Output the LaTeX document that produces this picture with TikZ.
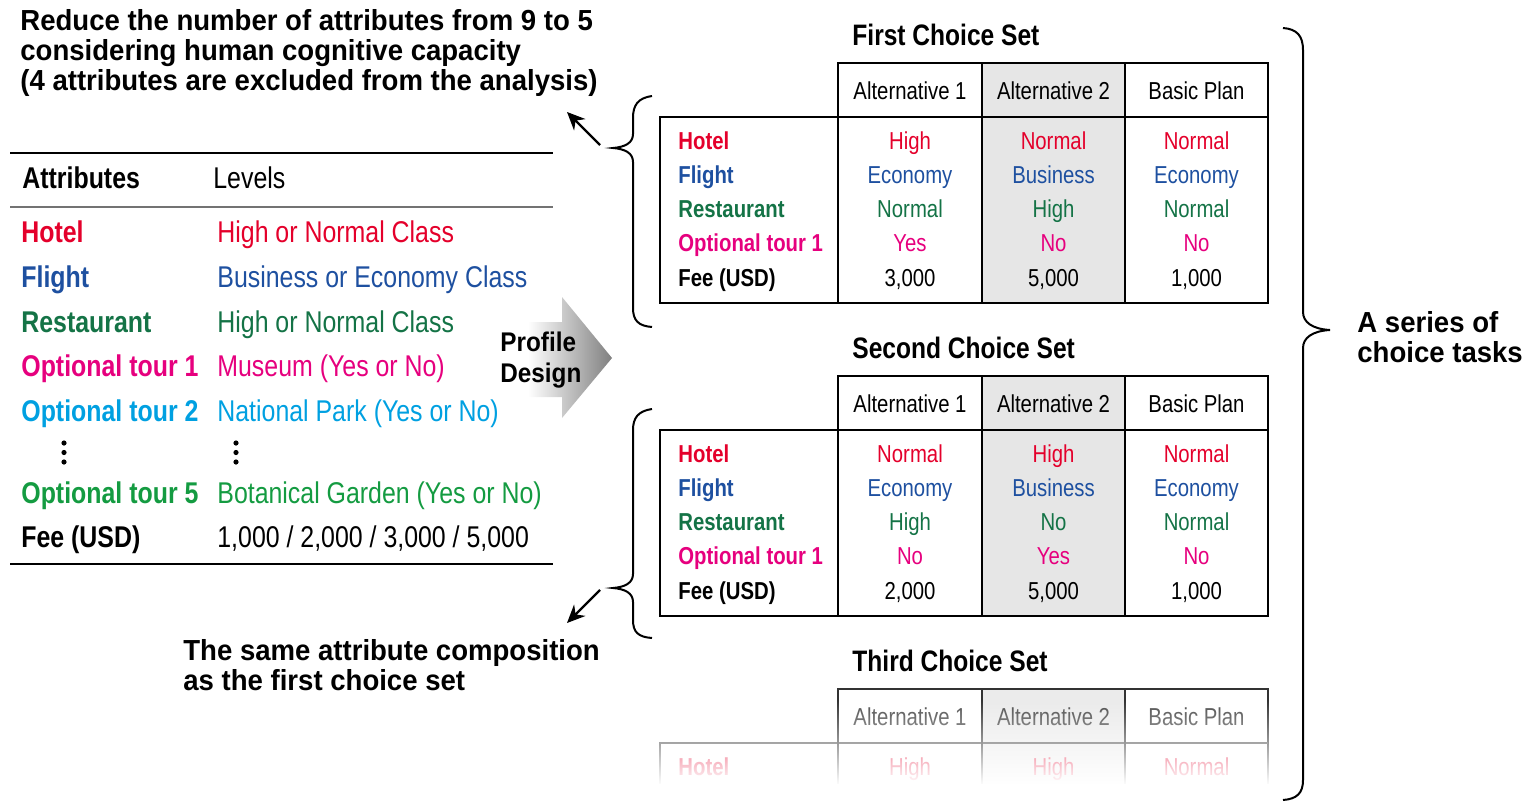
\documentclass[tikz,border=0pt]{standalone}
\usepackage{fontspec}
\setmainfont{Liberation Sans}
\newfontfamily\narrowfont[FakeStretch=0.83]{Liberation Sans}
\newfontfamily\profilefont[FakeStretch=0.9]{Liberation Sans}
\newfontfamily\widefont[FakeStretch=0.95]{Liberation Sans}
\usetikzlibrary{arrows.meta,fadings}

\definecolor{cHotel}{RGB}{228,0,43}
\definecolor{cFlight}{RGB}{30,80,160}
\definecolor{cRest}{RGB}{20,115,70}
\definecolor{cTour1}{RGB}{230,0,126}
\definecolor{cTour2}{RGB}{0,160,225}
\definecolor{cTour5}{RGB}{20,155,65}
\definecolor{altgray}{RGB}{230,230,230}

\tikzfading[name=fadebelow, top color=transparent!100, bottom color=transparent!0]

\tikzset{
  tcell/.style={inner sep=0pt, anchor=base, font=\narrowfont\fontsize{12.25pt}{14pt}\selectfont},
  tlab/.style={inner sep=0pt, anchor=base west, font=\narrowfont\bfseries\fontsize{12.25pt}{14pt}\selectfont},
  attr/.style={inner sep=0pt, anchor=base west, font=\narrowfont\bfseries\fontsize{15pt}{17pt}\selectfont},
  levtext/.style={inner sep=0pt, anchor=base west, font=\narrowfont\fontsize{15pt}{17pt}\selectfont},
  settitle/.style={inner sep=0pt, anchor=base west, font=\narrowfont\bfseries\fontsize{14.8pt}{16pt}\selectfont},
  note/.style={inner sep=0pt, anchor=base west, align=left, font=\widefont\bfseries\fontsize{14.5pt}{15pt}\selectfont},
  profiletext/.style={inner sep=0pt, anchor=base west, align=left, font=\profilefont\bfseries\fontsize{13.5pt}{15.5pt}\selectfont},
  tline/.style={line width=1pt},
  bracepath/.style={line width=1pt},
  pointer/.style={line width=1.2pt, -{Stealth[length=9pt,width=8pt]}},
  toprule/.style={line width=1pt},
  midrule/.style={line width=0.7pt, black!55}
}

\begin{document}
\begin{tikzpicture}[x=0.5pt, y=-0.5pt]
\useasboundingbox (0,0) rectangle (1529,803);

% ---------- heading notes (positioned by the baseline of their last line) ----------
\node[note] (reduce) at (20,90) {Reduce the number of attributes from 9 to 5\\considering human cognitive capacity\\(4 attributes are excluded from the analysis)};
\node[note] (same) at (183,690) {The same attribute composition\\as the first choice set};
\node[note] (series) at (1357,362) {A series of\\choice tasks};

% ---------- attribute table ----------
\draw[toprule] (10,153) -- (553,153);
\draw[midrule] (10,207) -- (553,207);
\draw[toprule] (10,564) -- (553,564);
\node[attr] (hdrA) at (22,188) {Attributes};
\node[levtext] (hdrL) at (213,188) {Levels};
\foreach \nm/\lv/\cl/\yy [count=\i] in {
  Hotel/High or Normal Class/cHotel/242,
  Flight/Business or Economy Class/cFlight/287,
  Restaurant/High or Normal Class/cRest/332,
  Optional tour 1/Museum (Yes or No)/cTour1/376,
  Optional tour 2/National Park (Yes or No)/cTour2/421,
  Optional tour 5/Botanical Garden (Yes or No)/cTour5/503,
  Fee (USD)/{1,000 / 2,000 / 3,000 / 5,000}/black/547}{
  \node[attr, text=\cl] (att\i) at (21,\yy) {\nm};
  \node[levtext, text=\cl] (lev\i) at (217,\yy) {\lv};
}
\foreach \xx in {64,236}{
  \foreach \yy in {443,452.5,462}{
    \fill (\xx,\yy) circle[radius=2.6];
  }
}

% ---------- profile design arrow ----------
\shade[left color=white, right color=black!50]
  (528,322) -- (562,322) -- (562,297) -- (612,358) -- (562,418) -- (562,397) -- (528,397) -- cycle;
\node[profiletext] (profile) at (500,382) {Profile\\Design};

% ---------- first choice set ----------
\node[settitle] (t1) at (852,45) {First Choice Set};
\fill[altgray] (982,63) rectangle (1125,303);
\draw[tline] (838,117) -- (838,63) -- (1268,63) -- (1268,303) -- (660,303) -- (660,117) -- cycle;
\draw[tline] (838,117) -- (1268,117);
\foreach \xx in {838,982,1125} \draw[tline] (\xx,63) -- (\xx,303);
\node[tcell] (s1h1) at (910,99) {Alternative 1};
\node[tcell] (s1h2) at (1053.5,99) {Alternative 2};
\node[tcell] (s1h3) at (1196.5,99) {Basic Plan};
\foreach \nm/\cl/\va/\vb/\vc/\yy [count=\i] in {
  Hotel/cHotel/High/Normal/Normal/149,
  Flight/cFlight/Economy/Business/Economy/183.3,
  Restaurant/cRest/Normal/High/Normal/217.6,
  Optional tour 1/cTour1/Yes/No/No/251.9,
  Fee (USD)/black/{3,000}/{5,000}/{1,000}/286.2}{
  \node[tlab, text=\cl] (s1r\i) at (678,\yy) {\nm};
  \node[tcell, text=\cl] (s1a\i) at (910,\yy) {\va};
  \node[tcell, text=\cl] (s1b\i) at (1053.5,\yy) {\vb};
  \node[tcell, text=\cl] (s1c\i) at (1196.5,\yy) {\vc};
}

% ---------- second choice set ----------
\begin{scope}[shift={(0,313)}]
\node[settitle] (t2) at (852,45) {Second Choice Set};
\fill[altgray] (982,63) rectangle (1125,303);
\draw[tline] (838,117) -- (838,63) -- (1268,63) -- (1268,303) -- (660,303) -- (660,117) -- cycle;
\draw[tline] (838,117) -- (1268,117);
\foreach \xx in {838,982,1125} \draw[tline] (\xx,63) -- (\xx,303);
\node[tcell] (s2h1) at (910,99) {Alternative 1};
\node[tcell] (s2h2) at (1053.5,99) {Alternative 2};
\node[tcell] (s2h3) at (1196.5,99) {Basic Plan};
\foreach \nm/\cl/\va/\vb/\vc/\yy [count=\i] in {
  Hotel/cHotel/Normal/High/Normal/149,
  Flight/cFlight/Economy/Business/Economy/183.3,
  Restaurant/cRest/High/No/Normal/217.6,
  Optional tour 1/cTour1/No/Yes/No/251.9,
  Fee (USD)/black/{2,000}/{5,000}/{1,000}/286.2}{
  \node[tlab, text=\cl] (s2r\i) at (678,\yy) {\nm};
  \node[tcell, text=\cl] (s2a\i) at (910,\yy) {\va};
  \node[tcell, text=\cl] (s2b\i) at (1053.5,\yy) {\vb};
  \node[tcell, text=\cl] (s2c\i) at (1196.5,\yy) {\vc};
}
\end{scope}

% ---------- third choice set (fading out) ----------
\begin{scope}[shift={(0,626)}]
\node[settitle] (t3) at (852,45) {Third Choice Set};
\fill[altgray!80] (982,63) rectangle (1125,170);
\draw[tline, black!80] (838,117) -- (838,63) -- (1268,63) -- (1268,170);
\draw[tline, black!70] (660,170) -- (660,117) -- (1268,117);
\foreach \xx in {838,982,1125} \draw[tline, black!80] (\xx,63) -- (\xx,170);
\node[tcell, text=black!70] (s3h1) at (910,99) {Alternative 1};
\node[tcell, text=black!70] (s3h2) at (1053.5,99) {Alternative 2};
\node[tcell, text=black!70] (s3h3) at (1196.5,99) {Basic Plan};
\node[tlab, text=cHotel] (s3r1) at (678,149) {Hotel};
\node[tcell, text=cHotel] (s3a1) at (910,149) {High};
\node[tcell, text=cHotel] (s3b1) at (1053.5,149) {High};
\node[tcell, text=cHotel] (s3c1) at (1196.5,149) {Normal};
\end{scope}
\fill[white, path fading=fadebelow] (640,700) rectangle (1285,785);
\fill[white] (640,784) rectangle (1285,803);

% ---------- braces ----------
\draw[bracepath] (652,96) .. controls (638,98) and (633,105) .. (633,118) -- (633,134)
  .. controls (633,143) and (625,147) .. (613,148)
  .. controls (625,149) and (633,153) .. (633,162) -- (633,308)
  .. controls (633,320) and (638,326) .. (652,327);
\draw[bracepath] (652,409) .. controls (638,411) and (633,418) .. (633,430) -- (633,574)
  .. controls (633,583) and (625,587) .. (613,588)
  .. controls (625,589) and (633,593) .. (633,602) -- (633,620)
  .. controls (633,632) and (638,637) .. (652,638);
\draw[bracepath] (1283,28) .. controls (1297,29) and (1303,36) .. (1303,50) -- (1303,312)
  .. controls (1303,322) and (1312,329) .. (1330,330)
  .. controls (1312,331) and (1303,338) .. (1303,348) -- (1303,780)
  .. controls (1303,793) and (1297,799) .. (1283,800);

% ---------- pointers from the braces ----------
\coordinate (upfrom) at (600,145);
\coordinate (upto) at (567,112);
\coordinate (downfrom) at (600,590);
\coordinate (downto) at (567,623);
\draw[pointer] (upfrom) -- (upto);
\draw[pointer] (downfrom) -- (downto);
\end{tikzpicture}
\end{document}
